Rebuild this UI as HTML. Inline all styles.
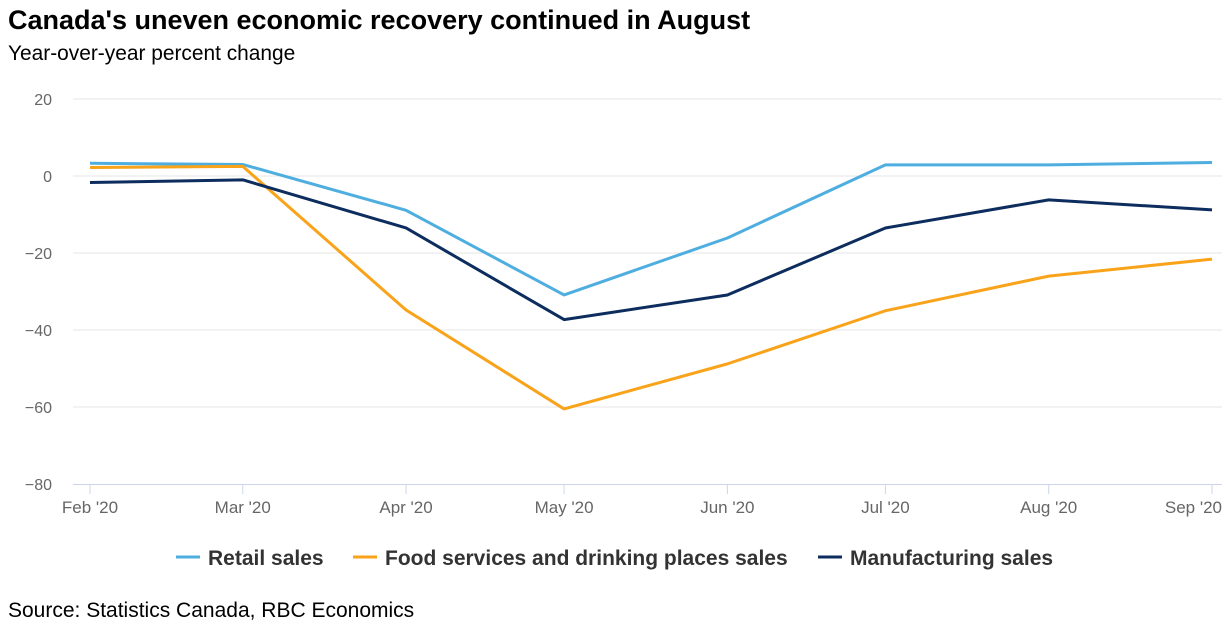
<!DOCTYPE html>
<html><head><meta charset="utf-8">
<style>
body{margin:0;background:#fff;width:1230px;height:628px;overflow:hidden;font-family:"Liberation Sans",Arial,sans-serif}
</style></head>
<body>
<svg id="chart" width="1230" height="628" xmlns="http://www.w3.org/2000/svg">
<text x="8" y="29" font-size="27" font-weight="bold" fill="#000">Canada's uneven economic recovery continued in August</text>
<text x="8" y="60" font-size="20.9" fill="#000">Year-over-year percent change</text>
<g id="grid"></g><g id="xaxis"></g><g id="series"></g>
<g id="legend"></g>
<text x="8" y="617" font-size="21" fill="#000">Source: Statistics Canada, RBC Economics</text>
</svg>
<script>
const categories=["Feb '20","Mar '20","Apr '20","May '20","Jun '20","Jul '20","Aug '20","Sep '20"];
const dayOffsets=[0,29,60,90,121,151,182,213];
const retail=[3.3,3.0,-8.9,-30.9,-16.1,2.9,2.9,3.5];
const food=[2.2,2.5,-34.8,-60.5,-48.8,-35.0,-26.0,-21.6];
const manuf=[-1.7,-1.0,-13.5,-37.3,-30.9,-13.5,-6.2,-8.8];
const yTicks=[20,0,-20,-40,-60,-80];
const seriesNames=["Retail sales","Food services and drinking places sales","Manufacturing sales"];
const ns="http://www.w3.org/2000/svg";
const x=d=>90+(d/213)*1122;
const y=v=>176-v*3.85;
function mk(tag,attrs,parent){const e=document.createElementNS(ns,tag);for(const k in attrs)e.setAttribute(k,attrs[k]);parent.appendChild(e);return e;}
const grid=document.getElementById('grid');
yTicks.forEach(t=>{
  if(t>-80){const l=mk('line',{x1:73,x2:1222,y1:y(t),y2:y(t),stroke:'#e6e6e6','stroke-width':1},grid);
  
  }
  const tx=mk('text',{x:52,y:y(t)+6,'text-anchor':'end','font-size':16,fill:'#666'},grid);
  tx.textContent=(t<0?'\u2212'+Math.abs(t):t);
  
  
});
const xa=document.getElementById('xaxis');
const al=mk('line',{x1:73,x2:1222,y1:484.5,y2:484.5,stroke:'#ccd6eb','stroke-width':1},xa);


categories.forEach((c,i)=>{
  const tk=mk('line',{x1:x(dayOffsets[i]),x2:x(dayOffsets[i]),y1:484,y2:494,stroke:'#ccd6eb'},xa);
  
  
  const last=i===categories.length-1;
  const tx=mk('text',{x:last?1222:x(dayOffsets[i]),y:513,'text-anchor':last?'end':'middle','font-size':17,fill:'#666'},xa);
  tx.textContent=c;
  
  
});
const sg=document.getElementById('series');
const colors=['#4faee0','#f9a31b','#0c2d5e'];
[retail,food,manuf].forEach((s,k)=>{
  const p=mk('path',{d:s.map((v,i)=>(i?'L':'M')+x(dayOffsets[i])+' '+y(v)).join(' '),fill:'none',stroke:colors[k],'stroke-width':3,'stroke-linejoin':'round'},sg);
  
  
});
const lg=document.getElementById('legend');
const lx=[176,353,818];
seriesNames.forEach((n,k)=>{
  const l=mk('line',{x1:lx[k],x2:lx[k]+24,y1:557,y2:557,stroke:colors[k],'stroke-width':3},lg);
  
  
  const t=mk('text',{x:lx[k]+32,y:565,'font-size':21,'font-weight':'bold',fill:'#333'},lg);
  t.textContent=n;
  
  
});
</script>
</body></html>
